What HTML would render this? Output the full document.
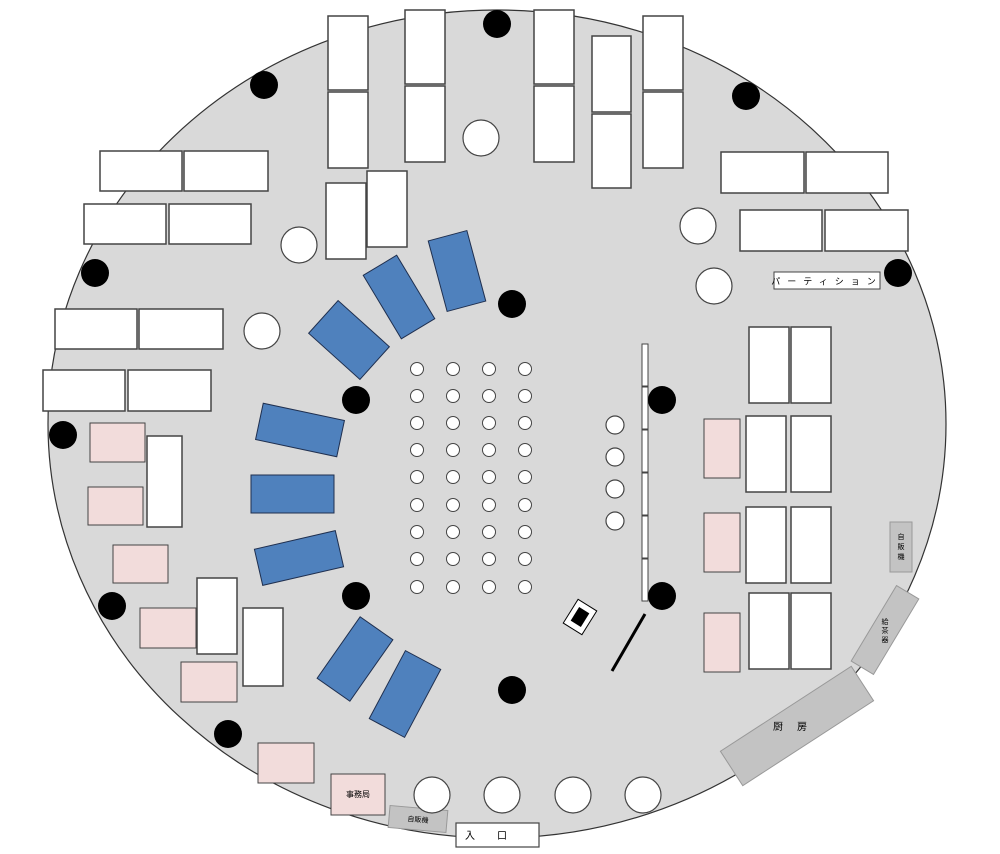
<!DOCTYPE html>
<html><head><meta charset="utf-8"><style>
html,body{margin:0;padding:0;background:#fff;}
svg{display:block}
text{font-family:"Liberation Sans","Noto Sans CJK JP",sans-serif;fill:#000}
</style></head><body>
<svg width="1000" height="854" viewBox="0 0 1000 854" xmlns="http://www.w3.org/2000/svg">
<ellipse cx="497" cy="424" rx="449" ry="414" fill="#d9d9d9" stroke="#333" stroke-width="1.2"/>

<g fill="#fff" stroke="#444" stroke-width="1.5">
<!-- top -->
<rect x="328" y="16" width="40" height="74"/><rect x="328" y="92" width="40" height="76"/>
<rect x="405" y="10" width="40" height="74"/><rect x="405" y="86" width="40" height="76"/>
<rect x="534" y="10" width="40" height="74"/><rect x="534" y="86" width="40" height="76"/>
<rect x="592" y="36" width="39" height="76"/><rect x="592" y="114" width="39" height="74"/>
<rect x="643" y="16" width="40" height="74"/><rect x="643" y="92" width="40" height="76"/>
<rect x="326" y="183" width="40" height="76"/><rect x="367" y="171" width="40" height="76"/>
<!-- left -->
<rect x="100" y="151" width="82" height="40"/><rect x="184" y="151" width="84" height="40"/>
<rect x="84" y="204" width="82" height="40"/><rect x="169" y="204" width="82" height="40"/>
<rect x="55" y="309" width="82" height="40"/><rect x="139" y="309" width="84" height="40"/>
<rect x="43" y="370" width="82" height="41"/><rect x="128" y="370" width="83" height="41"/>
<rect x="147" y="436" width="35" height="91"/>
<rect x="197" y="578" width="40" height="76"/><rect x="243" y="608" width="40" height="78"/>
<!-- right -->
<rect x="721" y="152" width="83" height="41"/><rect x="806" y="152" width="82" height="41"/>
<rect x="740" y="210" width="82" height="41"/><rect x="825" y="210" width="83" height="41"/>
<rect x="749" y="327" width="40" height="76"/><rect x="791" y="327" width="40" height="76"/>
<rect x="746" y="416" width="40" height="76"/><rect x="791" y="416" width="40" height="76"/>
<rect x="746" y="507" width="40" height="76"/><rect x="791" y="507" width="40" height="76"/>
<rect x="749" y="593" width="40" height="76"/><rect x="791" y="593" width="40" height="76"/>
</g>

<rect x="774" y="272" width="106" height="17" fill="#fff" stroke="#444" stroke-width="1"/>
<text x="827" y="284.5" font-size="9" text-anchor="middle" letter-spacing="7">パーティション</text>

<g fill="#f2dcdb" stroke="#444" stroke-width="1">
<rect x="90" y="423" width="55" height="39"/><rect x="88" y="487" width="55" height="38"/>
<rect x="113" y="545" width="55" height="38"/><rect x="140" y="608" width="56" height="40"/>
<rect x="181" y="662" width="56" height="40"/><rect x="258" y="743" width="56" height="40"/>
<rect x="704" y="419" width="36" height="59"/><rect x="704" y="513" width="36" height="59"/>
<rect x="704" y="613" width="36" height="59"/>
<rect x="331" y="774" width="54" height="41"/>
</g>
<text x="358" y="797" font-size="8" text-anchor="middle">事務局</text>

<!-- blue tables -->
<g fill="#4f81bd" stroke="#1f2f4f" stroke-width="1">
<rect x="-20" y="-36.5" width="40" height="73" transform="translate(457,271) rotate(-15)"/>
<rect x="-19.5" y="-37" width="39" height="74" transform="translate(399,297) rotate(-31)"/>
<rect x="-34.5" y="-22" width="69" height="44" transform="translate(349,340) rotate(42)"/>
<rect x="-41.5" y="-18.5" width="83" height="37" transform="translate(300,430) rotate(12)"/>
<rect x="251" y="475" width="83" height="38"/>
<rect x="-41.5" y="-18.5" width="83" height="37" transform="translate(299,558) rotate(-13)"/>
<rect x="-37.5" y="-20" width="75" height="40" transform="translate(355,659) rotate(-55)"/>
<rect x="-38.5" y="-20" width="77" height="40" transform="translate(405,694) rotate(-62)"/>
</g>

<!-- gray fixtures -->
<g fill="#c3c3c3" stroke="#999" stroke-width="1">
<rect x="890" y="522" width="22" height="50"/>
<rect x="-13" y="-44" width="26" height="88" transform="translate(885,630) rotate(31)"/>
<rect x="-78" y="-20.5" width="156" height="41" transform="translate(797,726) rotate(-33)"/>
<rect x="-29" y="-11" width="58" height="22" transform="translate(418,819) rotate(5)"/>
</g>
<text font-size="7" text-anchor="middle"><tspan x="901" y="539">自</tspan><tspan x="901" y="549">販</tspan><tspan x="901" y="559">機</tspan></text>
<g transform="translate(885,630)"><text font-size="7" text-anchor="middle"><tspan x="0" y="-6">給</tspan><tspan x="0" y="3">茶</tspan><tspan x="0" y="12">器</tspan></text></g>
<text x="797" y="730" font-size="10" text-anchor="middle" letter-spacing="14">厨房</text>
<text x="418" y="822" font-size="7" text-anchor="middle" transform="rotate(5 418 819)">自販機</text>

<rect x="456" y="823" width="83" height="24" fill="#fff" stroke="#444" stroke-width="1.2"/>
<text x="497" y="839" font-size="10" text-anchor="middle" letter-spacing="22">入口</text>

<!-- big white circles -->
<g fill="#fff" stroke="#444" stroke-width="1.2">
<circle cx="481" cy="138" r="18"/><circle cx="299" cy="245" r="18"/><circle cx="262" cy="331" r="18"/>
<circle cx="698" cy="226" r="18"/><circle cx="714" cy="286" r="18"/>
<circle cx="432" cy="795" r="18"/><circle cx="502" cy="795" r="18"/><circle cx="573" cy="795" r="18"/><circle cx="643" cy="795" r="18"/>
<circle cx="615" cy="425" r="9"/><circle cx="615" cy="457" r="9"/><circle cx="615" cy="489" r="9"/><circle cx="615" cy="521" r="9"/>
</g>

<!-- grid of chairs -->
<g fill="#fff" stroke="#444" stroke-width="1">
<g id="col">
<circle cx="417" cy="369" r="6.5"/><circle cx="417" cy="396" r="6.5"/><circle cx="417" cy="423" r="6.5"/>
<circle cx="417" cy="450" r="6.5"/><circle cx="417" cy="477" r="6.5"/><circle cx="417" cy="505" r="6.5"/>
<circle cx="417" cy="532" r="6.5"/><circle cx="417" cy="559" r="6.5"/><circle cx="417" cy="587" r="6.5"/>
</g>
<use href="#col" x="36"/><use href="#col" x="72"/><use href="#col" x="108"/>
</g>

<!-- stage panels -->
<g fill="#fff" stroke="#444" stroke-width="1">
<rect x="642" y="344" width="6" height="42"/><rect x="642" y="387" width="6" height="42"/>
<rect x="642" y="430" width="6" height="42"/><rect x="642" y="473" width="6" height="42"/>
<rect x="642" y="516" width="6" height="42"/><rect x="642" y="559" width="6" height="42"/>
</g>

<!-- black pillars -->
<g fill="#000">
<circle cx="497" cy="24" r="14"/><circle cx="264" cy="85" r="14"/><circle cx="746" cy="96" r="14"/>
<circle cx="95" cy="273" r="14"/><circle cx="898" cy="273" r="14"/><circle cx="512" cy="304" r="14"/>
<circle cx="356" cy="400" r="14"/><circle cx="662" cy="400" r="14"/><circle cx="63" cy="435" r="14"/>
<circle cx="356" cy="596" r="14"/><circle cx="662" cy="596" r="14"/><circle cx="112" cy="606" r="14"/>
<circle cx="512" cy="690" r="14"/><circle cx="228" cy="734" r="14"/>
</g>

<!-- podium -->
<g transform="translate(580,617) rotate(32)">
<rect x="-11" y="-14" width="22" height="28" fill="#fff" stroke="#000" stroke-width="1"/>
<rect x="-6" y="-8" width="12" height="16" fill="#000"/>
</g>
<line x1="645" y1="614" x2="612" y2="671" stroke="#000" stroke-width="3"/>
</svg>
</body></html>
